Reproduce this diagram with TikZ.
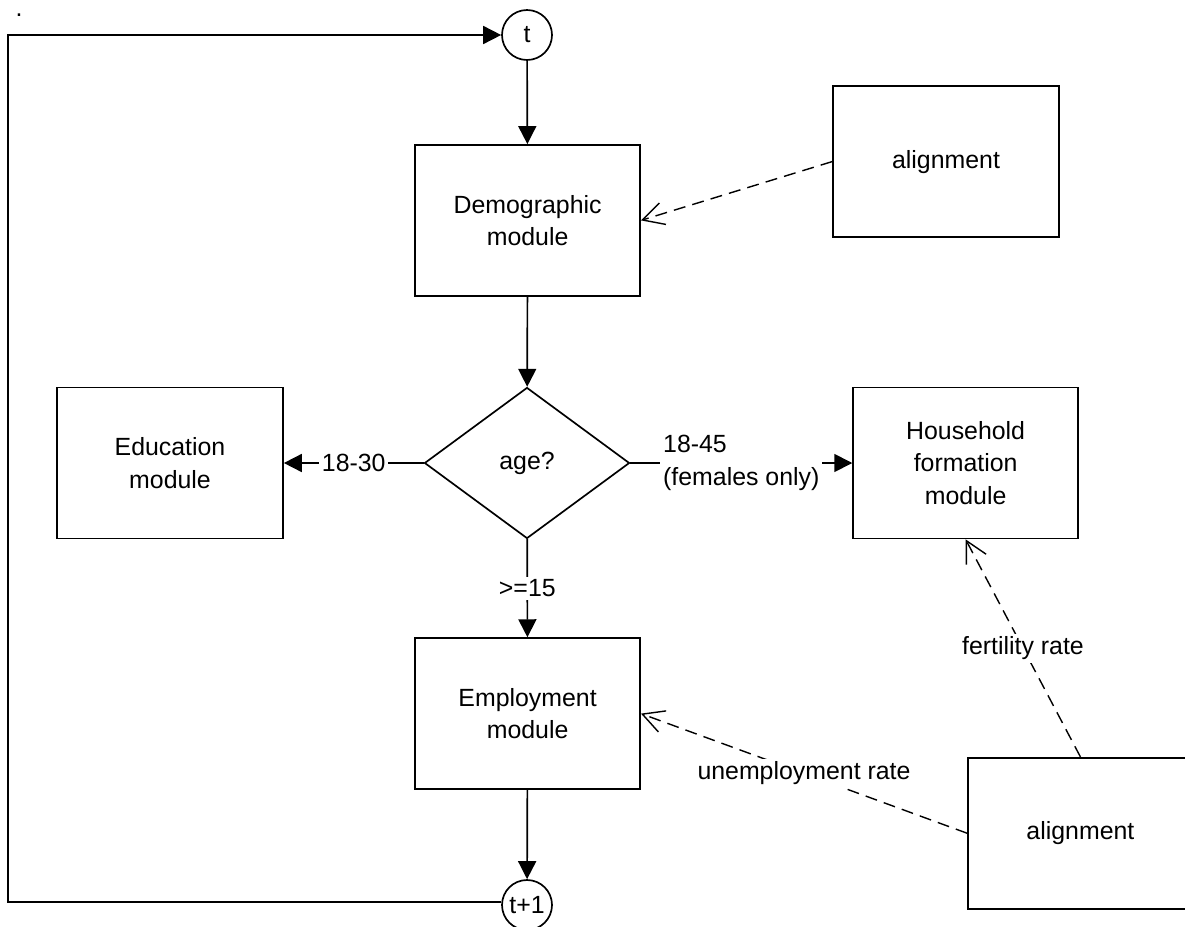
\documentclass[tikz,border=0pt]{standalone}
\usepackage{fontspec}
\setmainfont{Liberation Sans}
\usetikzlibrary{shapes,calc,arrows.meta}

\begin{document}
\begin{tikzpicture}[
        font=\fontsize{17.7}{23.1}\selectfont,
        box/.style={draw, line width=1.2pt, minimum width=5.625cm, minimum height=3.775cm, align=center, inner sep=0pt},
        decision/.style={draw, diamond, line width=1.2pt, minimum width=5.125cm, minimum height=3.775cm, inner sep=0pt},
        clock/.style={draw, circle, line width=1.2pt, minimum size=1.25cm, inner sep=0pt},
        flow/.style={line width=1.2pt, -{Triangle[length=0.45cm,width=0.45cm]}},
        infl/.style={line width=1pt, dash pattern=on 0.3cm off 0.18cm, -{Straight Barb[length=0.53cm,width=0.56cm]}},
        lbl/.style={fill=white, inner sep=2pt}
    ]
        \useasboundingbox (0,0) rectangle (29.625,-23.15);
        \clip (0,0) rectangle (29.625,-23.15);
        \node[anchor=base, inner sep=0pt] (dot) at (0.475,-0.4) {.};
        % time loop
        \node[clock] (t) at (13.175,-0.875) {t};
        \node[clock] (t1) at (13.175,-22.625) {t+1};
        \coordinate (lb) at (0.2,-22.55);
        \coordinate (lt) at (0.2,-0.875);
        % modules
        \node[box] (demog) at (13.19,-5.51) {Demographic\\module};
        \node[decision] (age) at (13.175,-11.575) {age?};
        \node[box, minimum width=5.65cm] (edu) at (4.25,-11.575) {Education\\module};
        \node[box] (hh) at (24.14,-11.575) {Household\\formation\\module};
        \node[box] (emp) at (13.19,-17.84) {Employment\\module};
        % alignment
        \node[box, minimum width=5.65cm] (alignA) at (23.65,-4.04) {alignment};
        \node[box] (alignB) at (27.01,-20.83) {alignment};
        \draw[flow] (t1.west |- lb) -- (lb) -- (lt) -- (t.west);
        \draw[flow] (t) -- (demog);
        \draw[flow] (demog) -- (age);
        \draw[flow] (age) -- node[lbl] {18-30} (edu);
        \draw[flow] (age) -- node[lbl, align=left] {18-45\\(females only)} (hh);
        \draw[flow] (age) -- node[lbl] {>=15} (emp);
        \draw[flow] (emp) -- (t1);
        \draw[infl] (alignA.west) -- (demog.east);
        \draw[infl] (alignB.west) -- node[lbl] {unemployment rate} (emp.east);
        \draw[infl] (alignB.north) -- node[lbl] {fertility rate} (hh.south);
    \end{tikzpicture}
\end{document}
